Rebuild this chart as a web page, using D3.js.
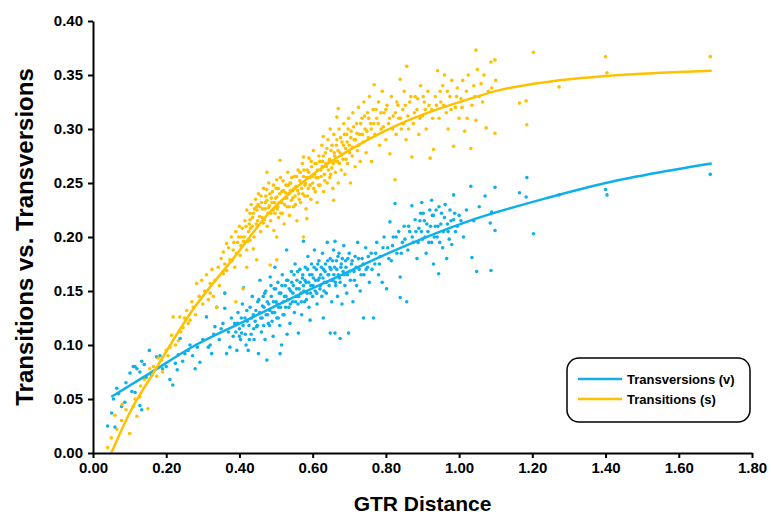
<!DOCTYPE html>
<html>
<head>
<meta charset="utf-8">
<script src="https://cdn.jsdelivr.net/npm/d3@7"></script>
<style>
  body { margin: 0; background: #fff; }
  svg { font-family: "Liberation Sans", Arial, sans-serif; }
  .axis path, .axis line { stroke: #000; stroke-width: 2; }
  .axis text { font-size: 15px; font-weight: bold; fill: #000; }
</style>
</head>
<body>
<div id="chart"></div>
<script>
// scatter values: [GTR distance, proportion]
var transitionPts = [
  [0.04,0.005],[0.05,0.014],[0.06,0.035],[0.065,0.022],[0.078,0.03],[0.08,0.045],[0.09,0.04],[0.10,0.018],
  [0.11,0.043],[0.115,0.05],[0.12,0.034],[0.128,0.052],[0.13,0.062],[0.14,0.068],[0.15,0.041],[0.155,0.078],
  [0.165,0.08],[0.174,0.071],[0.178,0.088],[0.187,0.086],[0.19,0.075],[0.2,0.095],[0.205,0.09],[0.21,0.098],
  [0.215,0.109],[0.219,0.126],[0.225,0.1],[0.233,0.104],[0.237,0.126],[0.24,0.112],[0.246,0.116],[0.25,0.125],
  [0.256,0.132],[0.26,0.12],[0.265,0.123],[0.27,0.14],[0.274,0.135],[0.28,0.128],[0.283,0.157],[0.29,0.145],
  [0.297,0.16],[0.3,0.138],[0.305,0.15],[0.31,0.165],[0.315,0.142],[0.32,0.148],[0.32,0.157],[0.325,0.17],
  [0.329,0.145],[0.333,0.16],[0.338,0.135],[0.342,0.172],[0.345,0.155],[0.35,0.18],[0.356,0.166],[0.356,0.186],
  [0.36,0.175],[0.365,0.169],[0.365,0.194],[0.37,0.19],[0.374,0.179],[0.378,0.2],[0.383,0.188],[0.387,0.172],
  [0.39,0.205],[0.39,0.14],[0.395,0.195],[0.40,0.21],[0.402,0.183],[0.405,0.2],[0.41,0.152],[0.411,0.196],
  [0.415,0.215],[0.42,0.188],[0.42,0.172],[0.42,0.225],[0.425,0.205],[0.429,0.197],[0.429,0.216],[0.429,0.222],
  [0.432,0.23],[0.435,0.21],[0.438,0.222],[0.438,0.189],[0.44,0.2],[0.444,0.235],[0.447,0.179],[0.447,0.228],
  [0.448,0.225],[0.45,0.215],[0.452,0.24],[0.456,0.228],[0.458,0.205],[0.46,0.232],[0.462,0.218],[0.465,0.213],
  [0.466,0.245],[0.47,0.226],[0.472,0.238],[0.475,0.234],[0.475,0.26],[0.476,0.21],[0.478,0.222],[0.48,0.25],
  [0.482,0.229],[0.484,0.174],[0.485,0.215],[0.487,0.236],[0.49,0.242],[0.492,0.225],[0.494,0.206],[0.496,0.232],
  [0.5,0.245],[0.502,0.237],[0.502,0.2],[0.502,0.253],[0.502,0.179],[0.505,0.228],[0.507,0.218],[0.51,0.24],
  [0.511,0.271],[0.512,0.255],[0.515,0.232],[0.517,0.222],[0.52,0.243],[0.522,0.212],[0.525,0.236],[0.527,0.248],
  [0.53,0.228],[0.532,0.26],[0.535,0.24],[0.537,0.22],[0.538,0.25],[0.54,0.25],[0.542,0.234],[0.545,0.243],
  [0.548,0.228],[0.55,0.256],[0.552,0.238],[0.555,0.247],[0.557,0.215],[0.56,0.262],[0.562,0.24],[0.565,0.252],
  [0.567,0.232],[0.57,0.245],[0.572,0.268],[0.575,0.2],[0.575,0.256],[0.575,0.274],[0.578,0.238],[0.58,0.25],
  [0.582,0.226],[0.584,0.217],[0.585,0.262],[0.588,0.245],[0.59,0.273],[0.592,0.255],[0.595,0.235],[0.597,0.265],
  [0.6,0.25],[0.602,0.28],[0.605,0.258],[0.607,0.242],[0.61,0.268],[0.612,0.232],[0.615,0.255],[0.617,0.275],
  [0.62,0.248],[0.622,0.262],[0.625,0.285],[0.627,0.27],[0.629,0.293],[0.629,0.265],[0.63,0.242],[0.632,0.258],
  [0.635,0.278],[0.637,0.265],[0.64,0.25],[0.642,0.29],[0.645,0.27],[0.647,0.255],[0.648,0.3],[0.65,0.28],
  [0.652,0.264],[0.655,0.245],[0.657,0.234],[0.658,0.295],[0.66,0.275],[0.662,0.26],[0.665,0.285],[0.666,0.311],
  [0.668,0.27],[0.67,0.25],[0.67,0.319],[0.672,0.3],[0.675,0.278],[0.678,0.262],[0.68,0.288],[0.683,0.272],
  [0.685,0.305],[0.688,0.258],[0.69,0.282],[0.693,0.295],[0.695,0.268],[0.698,0.31],[0.70,0.285],[0.703,0.25],
  [0.705,0.298],[0.708,0.275],[0.71,0.315],[0.713,0.29],[0.716,0.265],[0.72,0.305],[0.722,0.28],[0.725,0.32],
  [0.728,0.295],[0.73,0.27],[0.735,0.31],[0.738,0.288],[0.74,0.325],[0.743,0.3],[0.746,0.278],[0.75,0.315],
  [0.752,0.292],[0.755,0.33],[0.758,0.305],[0.761,0.27],[0.765,0.318],[0.768,0.341],[0.77,0.295],[0.775,0.31],
  [0.78,0.325],[0.783,0.285],[0.787,0.3],[0.79,0.335],[0.795,0.315],[0.8,0.29],[0.803,0.322],[0.807,0.305],
  [0.811,0.277],[0.815,0.33],[0.82,0.312],[0.825,0.253],[0.828,0.295],[0.83,0.325],[0.835,0.31],[0.839,0.346],
  [0.842,0.3],[0.846,0.318],[0.85,0.335],[0.855,0.29],[0.857,0.358],[0.86,0.312],[0.865,0.325],[0.871,0.274],
  [0.875,0.305],[0.88,0.33],[0.885,0.318],[0.89,0.295],[0.895,0.34],[0.9,0.312],[0.905,0.325],[0.91,0.3],
  [0.915,0.335],[0.921,0.273],[0.925,0.318],[0.93,0.281],[0.935,0.33],[0.941,0.354],[0.945,0.31],[0.95,0.325],
  [0.955,0.34],[0.96,0.35],[0.965,0.315],[0.97,0.3],[0.975,0.33],[0.98,0.345],[0.985,0.284],[0.99,0.32],
  [0.995,0.338],[1.0,0.31],[1.005,0.328],[1.01,0.345],[1.015,0.298],[1.02,0.335],[1.025,0.35],[1.032,0.282],
  [1.035,0.322],[1.04,0.34],[1.046,0.373],[1.046,0.308],[1.05,0.355],[1.055,0.33],[1.06,0.342],[1.068,0.35],
  [1.074,0.301],[1.08,0.335],[1.087,0.362],[1.089,0.338],[1.098,0.364],[1.098,0.296],[1.1,0.345],[1.165,0.324],
  [1.183,0.326],[1.185,0.304],[1.203,0.371],[1.273,0.339],[1.40,0.367],[1.404,0.352],[1.686,0.367],
  [0.43,0.208],[0.436,0.218],[0.441,0.226],[0.446,0.212],[0.451,0.23],[0.455,0.219],[0.459,0.238],[0.463,0.226],
  [0.468,0.216],[0.471,0.232],[0.474,0.244],[0.479,0.227],[0.483,0.24],[0.486,0.222],[0.489,0.232],[0.493,0.248],
  [0.497,0.222],[0.499,0.236],[0.503,0.226],[0.506,0.245],[0.509,0.232],[0.513,0.222],[0.516,0.242],[0.519,0.252],
  [0.523,0.23],[0.526,0.241],[0.529,0.236],[0.533,0.248],[0.536,0.228],[0.539,0.243],[0.543,0.255],[0.546,0.236],
  [0.549,0.245],[0.553,0.23],[0.556,0.256],[0.559,0.243],[0.563,0.235],[0.566,0.26],[0.569,0.25],[0.573,0.24],
  [0.576,0.262],[0.579,0.248],[0.583,0.255],[0.586,0.238],[0.589,0.26],[0.593,0.248],[0.596,0.27],[0.599,0.256],
  [0.603,0.245],[0.606,0.268],[0.609,0.255],[0.613,0.262],[0.616,0.248],[0.619,0.27],[0.623,0.256],[0.626,0.265],
  [0.629,0.275],[0.633,0.252],[0.636,0.268],[0.639,0.282],[0.643,0.262],[0.646,0.272],[0.649,0.258],[0.653,0.285],
  [0.656,0.268],[0.659,0.278],[0.663,0.27],[0.666,0.29],[0.669,0.28],[0.673,0.268],[0.676,0.292],[0.679,0.276],
  [0.684,0.285],[0.687,0.295],[0.691,0.272],[0.694,0.288],[0.697,0.3],[0.701,0.278],[0.704,0.292],[0.709,0.283],
  [0.712,0.302],[0.717,0.29],[0.721,0.296],[0.726,0.285],[0.731,0.305],[0.736,0.295],[0.742,0.312],[0.748,0.298],
  [0.753,0.31],[0.76,0.3],[0.767,0.305],[0.773,0.318],[0.779,0.305],[0.786,0.315],[0.793,0.302],[0.8,0.318],
  [0.81,0.31],[0.818,0.3],[0.826,0.315],[0.833,0.322],[0.84,0.31],[0.848,0.305],[0.853,0.322],[0.862,0.3],
  [0.868,0.33],[0.878,0.315],[0.887,0.328],[0.893,0.31],[0.902,0.33],[0.908,0.318],[0.918,0.322],[0.928,0.31],
  [0.938,0.322],[0.948,0.335],[0.958,0.322],[0.968,0.335],[0.978,0.318],[0.993,0.33],[1.008,0.32],[1.022,0.31],
  [1.043,0.33],[1.064,0.325],[0.38,0.178],[0.385,0.195],[0.392,0.185],[0.398,0.2],[0.404,0.192],[0.408,0.208],
  [0.413,0.2],[0.418,0.21],[0.423,0.196],[0.427,0.212]
];

var transversionPts = [
  [0.04,0.025],[0.051,0.037],[0.056,0.05],[0.06,0.024],[0.065,0.06],[0.07,0.055],[0.078,0.043],[0.087,0.047],
  [0.09,0.065],[0.101,0.074],[0.106,0.057],[0.11,0.08],[0.115,0.056],[0.115,0.08],[0.12,0.078],[0.128,0.075],
  [0.128,0.044],[0.133,0.085],[0.133,0.04],[0.14,0.082],[0.145,0.07],[0.154,0.095],[0.16,0.072],[0.174,0.089],
  [0.183,0.09],[0.19,0.078],[0.2,0.08],[0.21,0.068],[0.218,0.063],[0.225,0.083],[0.23,0.077],[0.233,0.091],
  [0.238,0.106],[0.245,0.085],[0.251,0.092],[0.26,0.095],[0.265,0.1],[0.272,0.09],[0.279,0.078],[0.285,0.098],
  [0.292,0.084],[0.3,0.105],[0.31,0.126],[0.315,0.098],[0.32,0.1],[0.324,0.092],[0.33,0.11],[0.333,0.117],
  [0.338,0.135],[0.345,0.105],[0.35,0.115],[0.355,0.12],[0.36,0.148],[0.36,0.134],[0.365,0.092],[0.37,0.112],
  [0.374,0.098],[0.378,0.125],[0.383,0.108],[0.387,0.12],[0.393,0.095],[0.396,0.13],[0.4,0.115],[0.403,0.105],
  [0.406,0.111],[0.408,0.138],[0.411,0.153],[0.415,0.125],[0.418,0.1],[0.42,0.132],[0.424,0.095],[0.426,0.118],
  [0.429,0.135],[0.432,0.11],[0.435,0.145],[0.438,0.128],[0.44,0.105],[0.443,0.122],[0.447,0.117],[0.45,0.14],
  [0.452,0.092],[0.455,0.13],[0.456,0.16],[0.46,0.112],[0.462,0.125],[0.465,0.145],[0.467,0.135],[0.47,0.105],
  [0.472,0.15],[0.475,0.086],[0.477,0.128],[0.48,0.138],[0.482,0.118],[0.484,0.163],[0.487,0.145],[0.49,0.13],
  [0.492,0.108],[0.495,0.152],[0.497,0.172],[0.5,0.14],[0.502,0.125],[0.505,0.158],[0.507,0.135],[0.51,0.118],
  [0.511,0.092],[0.513,0.148],[0.515,0.1],[0.517,0.165],[0.52,0.14],[0.522,0.128],[0.525,0.155],[0.527,0.145],
  [0.529,0.188],[0.53,0.11],[0.532,0.16],[0.535,0.135],[0.538,0.12],[0.54,0.15],[0.542,0.168],[0.545,0.14],
  [0.547,0.155],[0.55,0.13],[0.552,0.175],[0.555,0.145],[0.557,0.16],[0.56,0.138],[0.561,0.111],[0.563,0.152],
  [0.565,0.17],[0.568,0.148],[0.57,0.128],[0.572,0.162],[0.575,0.196],[0.575,0.155],[0.578,0.14],[0.58,0.172],
  [0.582,0.158],[0.585,0.148],[0.587,0.182],[0.59,0.135],[0.592,0.165],[0.593,0.123],[0.595,0.155],[0.597,0.175],
  [0.6,0.145],[0.602,0.162],[0.605,0.188],[0.607,0.15],[0.61,0.17],[0.612,0.138],[0.615,0.16],[0.617,0.178],
  [0.62,0.152],[0.622,0.165],[0.625,0.145],[0.627,0.185],[0.629,0.125],[0.63,0.17],[0.632,0.158],[0.635,0.175],
  [0.637,0.148],[0.64,0.195],[0.642,0.165],[0.645,0.155],[0.648,0.111],[0.648,0.18],[0.65,0.17],[0.652,0.14],
  [0.655,0.16],[0.657,0.188],[0.66,0.172],[0.661,0.196],[0.661,0.111],[0.663,0.155],[0.665,0.178],[0.668,0.145],
  [0.67,0.165],[0.672,0.185],[0.675,0.106],[0.675,0.158],[0.678,0.175],[0.68,0.138],[0.683,0.168],[0.685,0.192],
  [0.688,0.155],[0.69,0.178],[0.693,0.148],[0.695,0.165],[0.698,0.111],[0.7,0.185],[0.703,0.16],[0.706,0.175],
  [0.71,0.14],[0.713,0.168],[0.716,0.182],[0.72,0.155],[0.723,0.195],[0.727,0.17],[0.73,0.15],[0.735,0.18],
  [0.739,0.125],[0.74,0.165],[0.745,0.19],[0.75,0.172],[0.755,0.158],[0.76,0.185],[0.766,0.125],[0.77,0.175],
  [0.775,0.195],[0.78,0.165],[0.785,0.182],[0.79,0.158],[0.795,0.2],[0.802,0.152],[0.805,0.19],[0.811,0.214],
  [0.815,0.178],[0.82,0.2],[0.825,0.231],[0.83,0.185],[0.835,0.205],[0.839,0.163],[0.839,0.144],[0.845,0.195],
  [0.85,0.21],[0.857,0.14],[0.86,0.188],[0.865,0.205],[0.871,0.229],[0.875,0.195],[0.88,0.216],[0.885,0.18],
  [0.89,0.208],[0.895,0.222],[0.898,0.232],[0.9,0.198],[0.905,0.215],[0.91,0.185],[0.915,0.205],[0.92,0.225],
  [0.925,0.234],[0.925,0.195],[0.93,0.175],[0.93,0.22],[0.935,0.21],[0.94,0.2],[0.944,0.166],[0.945,0.228],
  [0.95,0.212],[0.955,0.19],[0.96,0.218],[0.966,0.18],[0.97,0.205],[0.975,0.225],[0.98,0.193],[0.985,0.216],
  [0.985,0.239],[0.99,0.205],[1.0,0.22],[1.012,0.2],[1.02,0.225],[1.032,0.247],[1.035,0.181],[1.04,0.215],
  [1.048,0.168],[1.055,0.228],[1.071,0.238],[1.085,0.213],[1.087,0.169],[1.089,0.223],[1.098,0.246],[1.098,0.206],
  [1.165,0.241],[1.183,0.237],[1.185,0.255],[1.203,0.203],[1.273,0.239],[1.40,0.244],[1.404,0.239],[1.686,0.258],
  [0.445,0.132],[0.449,0.118],[0.453,0.142],[0.458,0.125],[0.463,0.136],[0.466,0.118],[0.469,0.148],[0.473,0.128],
  [0.476,0.14],[0.479,0.12],[0.483,0.132],[0.486,0.155],[0.489,0.122],[0.493,0.14],[0.496,0.13],[0.499,0.152],
  [0.503,0.138],[0.506,0.125],[0.509,0.148],[0.512,0.135],[0.516,0.155],[0.519,0.128],[0.523,0.145],[0.526,0.135],
  [0.529,0.16],[0.533,0.142],[0.536,0.152],[0.539,0.138],[0.543,0.158],[0.546,0.148],[0.549,0.165],[0.553,0.14],
  [0.556,0.152],[0.559,0.168],[0.562,0.145],[0.566,0.158],[0.569,0.14],[0.573,0.165],[0.576,0.15],[0.579,0.16],
  [0.583,0.142],[0.586,0.17],[0.589,0.158],[0.594,0.148],[0.598,0.165],[0.601,0.155],[0.604,0.172],[0.608,0.16],
  [0.611,0.148],[0.614,0.175],[0.618,0.162],[0.621,0.155],[0.624,0.172],[0.628,0.162],[0.631,0.15],[0.634,0.168],
  [0.638,0.158],[0.641,0.178],[0.644,0.165],[0.647,0.172],[0.651,0.16],[0.654,0.178],[0.658,0.165],[0.662,0.158],
  [0.666,0.17],[0.669,0.182],[0.673,0.162],[0.677,0.172],[0.681,0.18],[0.686,0.165],[0.691,0.172],[0.696,0.18],
  [0.701,0.168],[0.708,0.178],[0.714,0.16],[0.719,0.172],[0.725,0.18],[0.732,0.165],[0.738,0.175],[0.746,0.17],
  [0.752,0.182],[0.762,0.17],[0.772,0.185],[0.782,0.175],[0.792,0.19],[0.808,0.18],[0.818,0.192],[0.828,0.2],
  [0.842,0.185],[0.852,0.198],[0.862,0.21],[0.872,0.2],[0.882,0.205],[0.888,0.195],[0.893,0.215],[0.897,0.205],
  [0.902,0.222],[0.907,0.2],[0.912,0.212],[0.917,0.195],[0.922,0.21],[0.927,0.22],[0.932,0.2],[0.937,0.225],
  [0.942,0.21],[0.947,0.195],[0.952,0.222],[0.957,0.205],[0.962,0.23],[0.968,0.212],[0.973,0.198],[0.978,0.215],
  [0.988,0.222],[0.995,0.21],[1.005,0.215],[0.39,0.112],[0.395,0.12],[0.4,0.108],[0.405,0.125],[0.41,0.118],
  [0.416,0.11],[0.421,0.122],[0.427,0.105],[0.433,0.125],[0.439,0.115]
];

// fitted curves, read at a few x positions
var fitX_s = [0.05, 0.10, 0.17, 0.265, 0.39, 0.48, 0.57, 0.66, 0.75, 0.84, 0.93, 1.02, 1.11, 1.25, 1.40, 1.55, 1.69];
var fitY_s = [0.0, 0.037, 0.077, 0.129, 0.183, 0.222, 0.25, 0.272, 0.29, 0.305, 0.317, 0.327, 0.336, 0.344, 0.349, 0.352, 0.354];
var fitX_v = [0.05, 0.17, 0.265, 0.42, 0.54, 0.66, 0.84, 1.02, 1.25, 1.40, 1.55, 1.69];
var fitY_v = [0.052, 0.077, 0.097, 0.123, 0.143, 0.162, 0.19, 0.214, 0.237, 0.25, 0.26, 0.268];

var xTicks = [0, 0.2, 0.4, 0.6, 0.8, 1.0, 1.2, 1.4, 1.6, 1.8];
var yTicks = [0, 0.05, 0.1, 0.15, 0.2, 0.25, 0.3, 0.35, 0.4];

var seriesNames = ["Transversions (v)", "Transitions (s)"];
var colors = ["#0fb0ea", "#ffc000"];

var width = 771, height = 514;
var margin = {top: 21, right: 19, bottom: 61, left: 93};

var svg = d3.select("#chart").append("svg")
    .attr("width", width)
    .attr("height", height);

var x = d3.scaleLinear().domain([0, 1.8]).range([margin.left, width - margin.right]);
var y = d3.scaleLinear().domain([0, 0.4]).range([height - margin.bottom, margin.top]);

// dots
svg.append("g").selectAll("circle")
    .data(transversionPts)
  .enter().append("circle")
    .attr("cx", function(d) { return x(d[0]); })
    .attr("cy", function(d) { return y(d[1]); })
    .attr("r", 1.8)
    .style("fill", colors[0]);

svg.append("g").selectAll("circle")
    .data(transitionPts)
  .enter().append("circle")
    .attr("cx", function(d) { return x(d[0]); })
    .attr("cy", function(d) { return y(d[1]); })
    .attr("r", 1.8)
    .style("fill", colors[1]);

// fitted lines
var line = d3.line()
    .x(function(d) { return x(d[0]); })
    .y(function(d) { return y(d[1]); })
    .curve(d3.curveMonotoneX);

svg.append("path")
    .datum(d3.zip(fitX_v, fitY_v))
    .attr("d", line)
    .style("fill", "none")
    .style("stroke", colors[0])
    .style("stroke-width", 2.5);

svg.append("path")
    .datum(d3.zip(fitX_s, fitY_s))
    .attr("d", line)
    .style("fill", "none")
    .style("stroke", colors[1])
    .style("stroke-width", 2.5);

// axes
svg.append("g")
    .attr("class", "axis")
    .attr("transform", "translate(0," + y(0) + ")")
    .call(d3.axisBottom(x).tickValues(xTicks).tickFormat(d3.format(".2f")).tickSize(5).tickSizeOuter(0).tickPadding(4));

svg.append("g")
    .attr("class", "axis")
    .attr("transform", "translate(" + x(0) + ",0)")
    .call(d3.axisLeft(y).tickValues(yTicks).tickFormat(d3.format(".2f")).tickSize(5).tickSizeOuter(0).tickPadding(5));

// axis titles
svg.append("text")
    .attr("x", (x(0) + x(1.8)) / 2)
    .attr("y", 511)
    .attr("text-anchor", "middle")
    .style("font-size", "21px")
    .style("font-weight", "bold")
    .text("GTR Distance");

svg.append("text")
    .attr("transform", "translate(33," + ((y(0) + y(0.4)) / 2) + ") rotate(-90)")
    .attr("text-anchor", "middle")
    .style("font-size", "24px")
    .style("font-weight", "bold")
    .text("Transitions vs. Transversions");

// legend
var legend = svg.append("g").attr("transform", "translate(567,358)");
legend.append("rect")
    .attr("width", 183)
    .attr("height", 64)
    .attr("rx", 12)
    .style("fill", "#fff")
    .style("stroke", "#000")
    .style("stroke-width", 1.5);

seriesNames.forEach(function(name, i) {
  var ly = 21 + i * 20;
  legend.append("line")
      .attr("x1", 11).attr("x2", 55)
      .attr("y1", ly).attr("y2", ly)
      .style("stroke", colors[i])
      .style("stroke-width", 2.5);
  legend.append("text")
      .attr("x", 60)
      .attr("y", ly + 5)
      .style("font-size", "13px")
      .style("font-weight", "bold")
      .text(name);
});
</script>
</body>
</html>
